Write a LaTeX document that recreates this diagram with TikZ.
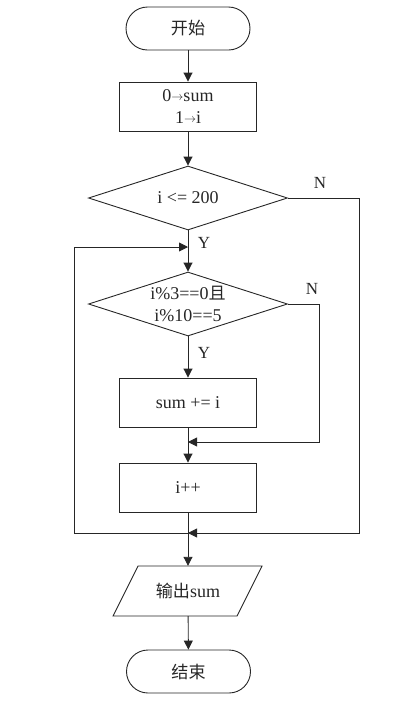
\documentclass[tikz,border=0pt]{standalone}
\usepackage{fontspec}
\setmainfont{Liberation Serif}
\newfontfamily\cjk[Scale=0.95]{Noto Sans CJK SC}
\usetikzlibrary{shapes.geometric,arrows.meta}
\begin{document}
\begin{tikzpicture}[x=1pt,y=-1pt,
  every node/.style={font=\fontsize{18}{22}\selectfont, text=black!85},
  base/.style={draw=black!85, line width=0.9pt, inner sep=0pt},
  term/.style={base, rectangle, rounded corners=21.5pt, minimum width=124pt, minimum height=43pt},
  proc/.style={base, rectangle, minimum width=137pt, minimum height=49pt, align=center},
  dec/.style={base, diamond, aspect=3.1, minimum width=199pt, minimum height=64pt, align=center},
  lbl/.style={font=\fontsize{17}{18}\selectfont},
  arr/.style={draw=black!85, line width=0.9pt, -{Triangle[length=9pt,width=9pt]}},
  ln/.style={draw=black!85, line width=0.9pt}]
\useasboundingbox (0,0) rectangle (419,710);
\node[term] (start) at (188,28.5) {\cjk 开始};
\node[proc] (init) at (188,106.5) {0\raisebox{1pt}{\fontsize{12}{12}\selectfont$\rightarrow$}sum\\1\raisebox{1pt}{\fontsize{12}{12}\selectfont$\rightarrow$}i};
\node[dec] (d1) at (188,198) {i <= 200};
\node[dec] (d2) at (188,304) {i\%3==0{\cjk 且}\\i\%10==5};
\node[proc] (add) at (188,402.5) {sum += i};
\node[proc] (inc) at (188,487.5) {i++};
\node[minimum width=124pt, minimum height=50pt, inner sep=0pt] (out) at (188,591) {{\cjk 输出}sum};
\draw[ln] (138,566) -- (262,566) -- (237,616) -- (113,616) -- cycle;
\node[term] (end) at (188.5,671.5) {\cjk 结束};
\coordinate (loopin) at (188,247);
\coordinate (merge) at (188,442);
\coordinate (exitj) at (188,533);
\draw[arr] (start) -- (init);
\draw[arr] (init) -- (d1);
\draw[arr] (d1) -- (d2);
\draw[arr] (d2) -- (add);
\draw[arr] (add) -- (inc);
\draw[ln] (inc) -- (exitj);
\draw[arr] (exitj) -- (out);
\draw[arr] (out) -- (end);
\draw[arr] (d1.east) -- (359,198) -- (359,533) -- (exitj);
\draw[arr] (d2.east) -- (319,304) -- (319,442) -- (merge);
\draw[arr] (74,533) -- (74,247) -- (loopin);
\draw[ln] (74,533) -- (exitj);
\node[lbl] (n1) at (320,183) {N};
\node[lbl] (y1) at (204,243) {Y};
\node[lbl] (n2) at (312,289) {N};
\node[lbl] (y2) at (204,353) {Y};
\end{tikzpicture}
\end{document}
